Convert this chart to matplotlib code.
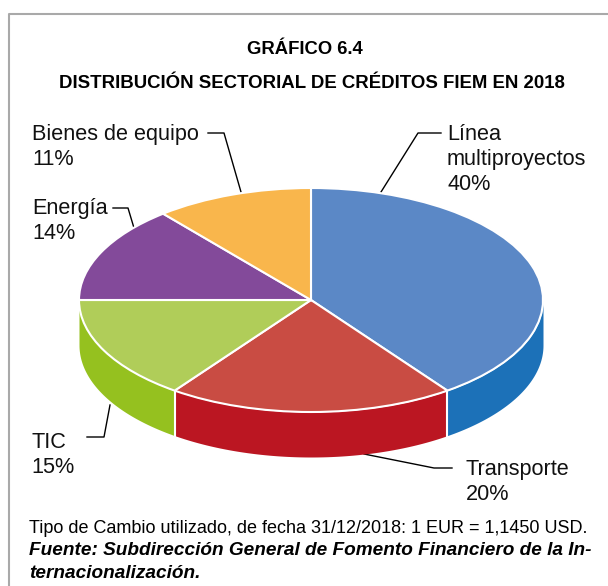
import numpy as np
from matplotlib import pyplot as plt

W, H = 608, 586

sectores = ['Línea\nmultiproyectos', 'Transporte', 'TIC', 'Energía', 'Bienes de equipo']
porcentajes = [40, 20, 15, 14, 11]
colorTop = ['#5b88c6', '#c94c43', '#b0cd59', '#834a9a', '#f9b64c']
colorWall = ['#1c71b8', '#bb1622', '#95c11f', '#834a9a', '#f9b64c']

plt.rcParams['font.family'] = ['Liberation Sans', 'DejaVu Sans']
fig = plt.figure(figsize=(W / 100, H / 100), dpi=100)

# background axes in pixel coords for frame, text and leader lines
bg = fig.add_axes([0, 0, 1, 1])
bg.set_xlim(0, W)
bg.set_ylim(H, 0)
bg.axis('off')
bg.plot([9, 9, W], [H, 14, 14], color='#a9a9a9', lw=1.5)

# pie, squashed to an ellipse: rx 232 px, ry 112 px, centre 311,300
depth = 45 / 112
top, bottom = 1.02, -1 - depth - 0.02
axH = (top - bottom) * 112
axTop = 300 - top * 112
ax = fig.add_axes([(311 - 232 * 1.01) / W, 1 - (axTop + axH) / H, 232 * 2.02 / W, axH / H])
ax.patch.set_alpha(0)

# side wall, only the front half can be seen
cum = np.cumsum([0] + porcentajes) / 100 * 2 * np.pi
for i in range(len(porcentajes)):
    t0, t1 = max(cum[i], np.pi / 2), min(cum[i + 1], 3 * np.pi / 2)
    if t1 <= t0:
        continue
    t = np.linspace(t0, t1, 80)
    ax.fill_between(np.sin(t), np.cos(t), np.cos(t) - depth, color=colorWall[i], lw=0, zorder=1)
    if cum[i + 1] < 3 * np.pi / 2:
        ax.plot([np.sin(t1)] * 2, [np.cos(t1), np.cos(t1) - depth], color='white', lw=1.5, zorder=2)

ax.pie(porcentajes, colors=colorTop, startangle=90, counterclock=False, radius=1,
       wedgeprops={'edgecolor': 'white', 'linewidth': 1.5, 'zorder': 3})
ax.set_aspect('auto')
ax.set_xlim(-1.01, 1.01)
ax.set_ylim(bottom, top)
ax.axis('off')

# titles
bg.text(305, 54, 'GRÁFICO 6.4', ha='center', va='baseline', fontsize=13.3, fontweight='bold')
bg.text(312, 88, 'DISTRIBUCIÓN SECTORIAL DE CRÉDITOS FIEM EN 2018', ha='center', va='baseline',
        fontsize=13.4, fontweight='bold')

# labels: text position (first baseline) and leader line
labelPos = [(447, 140), (466, 475), (31, 448), (32, 214), (32, 140)]
leaders = [
    ([441, 418, 381], [133, 133, 192]),
    ([452, 434, 364], [468, 468, 454]),
    ([87, 104, 110], [437, 437, 405]),
    ([113, 128, 134], [208, 208, 228]),
    ([208, 224, 241], [133, 133, 192]),
]
for i, name in enumerate(sectores):
    lines = name.split('\n') + ['%d%%' % porcentajes[i]]
    for k, line in enumerate(lines):
        bg.text(labelPos[i][0], labelPos[i][1] + k * 25, line, fontsize=15.6, va='baseline', color='#111111')
    bg.plot(leaders[i][0], leaders[i][1], color='black', lw=1, zorder=5)

# footer
bg.text(29, 533, 'Tipo de Cambio utilizado, de fecha 31/12/2018: 1 EUR = 1,1450 USD.', fontsize=13, va='baseline')
bg.text(29, 555, 'Fuente: Subdirección General de Fomento Financiero de la In-', fontsize=13.7,
        fontweight='bold', fontstyle='italic', va='baseline')
bg.text(29, 578, 'ternacionalización.', fontsize=13.7, fontweight='bold', fontstyle='italic', va='baseline')

fig.savefig('out.png', dpi=100)
